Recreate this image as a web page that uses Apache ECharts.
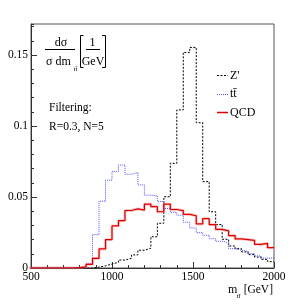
<!DOCTYPE html>
<html><head><meta charset="utf-8">
<script src="https://cdn.jsdelivr.net/npm/echarts@6/dist/echarts.min.js"></script>
<style>html,body{margin:0;padding:0;background:#fff}#c{width:304px;height:305px}</style>
</head><body><div id="c"></div>
<script>
// Bin low edges (GeV), 40 GeV bins; last bin ends at upperEdge
const binLowEdges = [480,520,560,600,640,680,720,760,800,840,880,920,960,1000,1040,1080,1120,1160,1200,1240,1280,1320,1360,1400,1440,1480,1520,1560,1600,1640,1680,1720,1760,1800,1840,1880,1920,1960];
const upperEdge = 2000;
const zprime = [0,0,0,0,0,0,0,0,0,0,0.0006,0.0015,0.0028,0.004,0.0056,0.0068,0.0092,0.0125,0.0139,0.022,0.0315,0.0502,0.0737,0.1113,0.1518,0.1553,0.1023,0.0608,0.0396,0.0306,0.0202,0.0155,0.0136,0.0113,0.0094,0.0077,0.0061,0.0045];
const ttbar = [0,0,0,0,0,0,0,0.0002,0.0008,0.0033,0.0235,0.047,0.0618,0.068,0.0725,0.066,0.0673,0.0585,0.0513,0.0508,0.0468,0.0419,0.0392,0.0372,0.0322,0.0282,0.0249,0.023,0.0206,0.0188,0.0178,0.0136,0.0125,0.0118,0.0101,0.0085,0.007,0.007];
const qcd = [0,0,0,0,0,0,0,0.0003,0.0008,0.0025,0.0068,0.0134,0.020,0.0296,0.0333,0.0405,0.0416,0.0408,0.045,0.0432,0.0396,0.045,0.0412,0.0404,0.0378,0.0368,0.031,0.0347,0.0305,0.0272,0.0262,0.0228,0.0205,0.0200,0.0195,0.0166,0.0174,0.0143];
const seriesNames = ["Z'", "t\u0074\u0304", "QCD"];
const xRange = [500, 2000];
const yMax = 0.1718;
const yMajor = 0.05, yMinor = 0.01, xMajor = 500, xMinor = 100;

function steps(vals){
  const d = binLowEdges.map((e,i)=>[e, vals[i]]);
  d.push([upperEdge, vals[vals.length-1]]);
  return d;
}
const FONT = '"Liberation Serif", "DejaVu Serif", serif';
const chart = echarts.init(document.getElementById('c'), null, {renderer:'canvas'});
const axCol = '#333';
const blue = '#5050ff';
function txt(text, x, y, size, align, valign){
  return {type:'text', silent:true, z:100, style:{text, x, y, fill:'#000', font: size+'px '+FONT, align: align||'left', verticalAlign: valign||'middle'}};
}
function ln(x1,y1,x2,y2,color,w,dash){
  return {type:'line', silent:true, z:100, shape:{x1,y1,x2,y2}, style:{stroke:color, lineWidth:w, lineDash:dash||null}};
}
chart.setOption({
  animation:false,
  grid:{left:31, top:24, right:30, bottom:37, show:true, borderColor:'#555', borderWidth:1, backgroundColor:'transparent'},
  xAxis:[
    {type:'value', min:xRange[0], max:xRange[1], interval:xMajor, position:'bottom',
     axisLine:{show:true, onZero:false, lineStyle:{color:axCol}}, axisTick:{inside:true, length:6, lineStyle:{color:axCol}},
     axisLabel:{color:'#000', fontFamily:FONT, fontSize:11.5, margin:3, formatter:v=>String(v)}, splitLine:{show:false}},
    {type:'value', min:xRange[0], max:xRange[1], interval:xMinor, position:'bottom',
     axisLine:{show:false, onZero:false}, axisTick:{inside:true, length:3, lineStyle:{color:axCol}},
     axisLabel:{show:false}, splitLine:{show:false}}
  ],
  yAxis:[
    {type:'value', min:0, max:yMax, interval:yMajor, position:'left',
     axisLine:{show:true, onZero:false, lineStyle:{color:axCol}}, axisTick:{inside:true, length:6, lineStyle:{color:axCol}},
     axisLabel:{color:'#000', fontFamily:FONT, fontSize:11.5, margin:3, showMaxLabel:false, formatter:v=>String(v)}, splitLine:{show:false}},
    {type:'value', min:0, max:yMax, interval:yMinor, position:'left',
     axisLine:{show:false, onZero:false}, axisTick:{inside:true, length:3, lineStyle:{color:axCol}},
     axisLabel:{show:false}, splitLine:{show:false}}
  ],
  series:[
    {name:seriesNames[0], type:'line', step:'end', data:steps(zprime), symbol:'none', xAxisIndex:0, yAxisIndex:0,
     lineStyle:{color:'#000', width:1, type:[2,1.5]}, z:2},
    {name:seriesNames[1], type:'line', step:'end', data:steps(ttbar), symbol:'none', xAxisIndex:0, yAxisIndex:0,
     lineStyle:{color:blue, width:1, type:[1,1]}, z:3},
    {name:'qcdband', type:'line', step:'end', data:steps(qcd), symbol:'none', xAxisIndex:0, yAxisIndex:0, silent:true,
     lineStyle:{color:'rgba(240,120,120,0.45)', width:2.8}, z:4},
    {name:seriesNames[2], type:'line', step:'end', data:steps(qcd), symbol:'none', xAxisIndex:0, yAxisIndex:0,
     lineStyle:{color:'#dd0000', width:1.2}, z:5}
  ],
  graphic:[
    // y-axis title (fraction)
    txt('d\u03c3', 61, 42.5, 12, 'center'),
    ln(45, 49.5, 75, 49.5, '#000', 1),
    txt('\u03c3 dm', 46, 61.5, 12, 'left'),
    txt('t\u0074\u0304', 73.5, 69, 7, 'left'),
    {type:'polyline', silent:true, z:100, shape:{points:[[83.5,35.5],[80.5,35.5],[80.5,67.5],[83.5,67.5]]}, style:{stroke:'#000', fill:null, lineWidth:1}},
    txt('1', 92.5, 42.5, 12, 'center'),
    ln(86, 49.5, 100, 49.5, '#000', 1),
    txt('GeV', 93, 61.5, 12, 'center'),
    {type:'polyline', silent:true, z:100, shape:{points:[[102,35.5],[105.5,35.5],[105.5,67.5],[102,67.5]]}, style:{stroke:'#000', fill:null, lineWidth:1}},
    // annotation
    txt('Filtering:', 49, 108, 11.5, 'left'),
    txt('R=0.3, N=5', 49, 126.5, 11.5, 'left'),
    // legend
    ln(217, 75.5, 228, 75.5, '#000', 1, [2,1.5]),
    txt(seriesNames[0], 230, 75.5, 12, 'left'),
    ln(217, 94.5, 228, 94.5, blue, 1, [1,1]),
    txt(seriesNames[1], 230, 93.5, 12, 'left'),
    ln(217, 112.5, 228, 112.5, '#dd0000', 1.5),
    txt(seriesNames[2], 230, 113, 12, 'left'),
    // x-axis title
    txt('m', 228, 290, 12, 'left'),
    txt('t\u0074\u0304', 236.5, 296.5, 7, 'left'),
    txt('[GeV]', 273, 290, 11.5, 'right')
  ]
});
</script>
</body></html>
